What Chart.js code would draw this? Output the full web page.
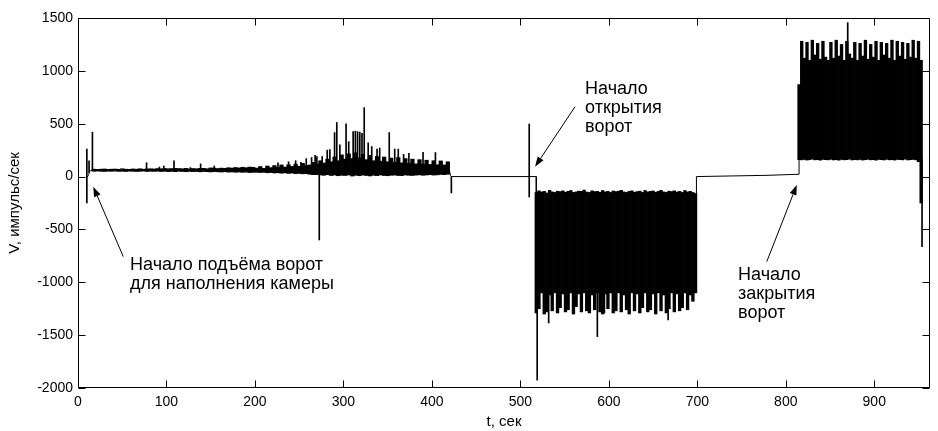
<!DOCTYPE html>
<html>
<head>
<meta charset="utf-8">
<script src="https://cdn.jsdelivr.net/npm/chart.js@4/dist/chart.umd.min.js"></script>
<style>
  body { margin: 0; background: #fff; }
  canvas { display: block; }
</style>
</head>
<body>
<canvas id="chart" width="938" height="431"></canvas>
<script>
// Axis ranges and tick labels
const tMin = 0, tMax = 963;
const vMin = -2000, vMax = 1500;
const tTicks = [0, 100, 200, 300, 400, 500, 600, 700, 800, 900];
const vTicks = [-2000, -1500, -1000, -500, 0, 500, 1000, 1500];

// Thin trace for the quiet stretches (null = break in the line)
const traceT = [9, 11, 12, 13, 14, 16, 18, 19, 418, 420, 421, 422, 518, 518, 600, 699, 699, 740, 780, 815, 815];
const traceV = [0, 0, 20, 45, 55, 60, 62, null, 110, 50, 10, 0, 0, -150, null, -190, 0, 6, 12, 22, 160];

// Gate lifting, 18..198 s every 4 s: bottom and top of the noisy line
const liftStart = 18, liftStep = 4;
const liftLo = [50, 52, 50, 48, 51, 50, 52, 49, 50, 48, 51, 50, 48, 50, 52, 48, 50, 49, 51, 48,
  50, 47, 49, 46, 50, 48, 46, 49, 47, 48, 45, 48, 46, 44, 47, 45, 43, 46, 42, 44, 41, 43, 40, 42, 38, 40];
const liftHi = [70, 68, 70, 72, 68, 70, 71, 69, 74, 70, 68, 72, 70, 74, 70, 72, 74, 72, 76, 74,
  76, 74, 76, 78, 76, 74, 78, 72, 76, 74, 78, 78, 74, 82, 80, 76, 80, 78, 84, 80, 86, 82, 88, 84, 90, 88];

// Growing noise, 202..418 s every 4 s
const noiseStart = 202, noiseStep = 4;
const noiseLo = [40, 38, 40, 36, 38, 34, 36, 32, 35, 30, 33, 28, 30, 26, 28,
  22, 18, 20, 15, 12, 18, 10, 14, 8, 12, 10, 15, 5, 12, 8, 14, 10, 6, 12, 9,
  15, 10, 8, 12, 14, 10, 9, 15, 12, 10, 14, 16, 12, 15, 18, 14, 16, 20, 18, 22];
const noiseHi = [80, 95, 78, 100, 85, 104, 86, 110, 90, 112, 96, 118, 98, 125, 104,
  110, 135, 118, 150, 128, 165, 140, 185, 150, 205, 165, 215, 170, 225, 175, 210, 160, 200, 150, 190,
  145, 185, 140, 175, 135, 180, 130, 170, 125, 165, 120, 160, 118, 155, 115, 150, 112, 148, 110, 140];

// Gate opening, 518..698 s every 3 s
const openStart = 518, openStep = 3;
const openLo = [-1290, -1250, -1100, -1300, -1280, -1120, -1270, -1100, -1290, -1240,
  -1110, -1280, -1260, -1100, -1300, -1230, -1110, -1280, -1100, -1270,
  -1290, -1120, -1260, -1100, -1280, -1300, -1110, -1250, -1100, -1290,
  -1270, -1100, -1280, -1120, -1260, -1300, -1100, -1270, -1110, -1290,
  -1240, -1100, -1280, -1260, -1110, -1300, -1100, -1270, -1120, -1290,
  -1250, -1100, -1280, -1110, -1270, -1240, -1100, -1260, -1120, -1180, -1100];
const openHi = [-150, -135, -145, -140, -155, -130, -145, -150, -138, -142,
  -135, -148, -140, -132, -150, -145, -138, -140, -128, -146,
  -150, -135, -142, -140, -148, -132, -145, -140, -150, -136,
  -142, -138, -130, -145, -150, -140, -135, -148, -142, -138,
  -150, -132, -145, -140, -136, -148, -140, -130, -145, -150,
  -138, -142, -135, -146, -140, -150, -132, -145, -140, -150, -160];

// Gate closing, 815..953 s every 3 s
const closeStart = 815, closeStep = 3;
const closeLo = [160, 158, 162, 156, 160, 165, 158, 160, 155, 162,
  160, 158, 163, 157, 160, 155, 162, 158, 160, 165,
  157, 160, 158, 162, 156, 160, 163, 158, 160, 155,
  162, 160, 157, 163, 158, 160, 156, 162, 160, 158,
  165, 157, 160, 162, 158, 140, -250];
const closeHi = [870, 1280, 1120, 1270, 1100, 1290, 1150, 1260, 1110, 1280,
  1130, 1100, 1270, 1120, 1290, 1140, 1250, 1100, 1280, 1160,
  1120, 1270, 1100, 1260, 1140, 1290, 1110, 1250, 1130, 1280,
  1100, 1270, 1150, 1260, 1120, 1290, 1100, 1280, 1140, 1270,
  1110, 1260, 1130, 1290, 1120, 1280, 1100];

// Single spikes: time, bottom, top
const spikeT = [10, 12.5, 16.3, 77.5, 92, 97, 108.5, 127, 138.6, 154,
  226, 238, 246, 252, 258, 264, 268, 270, 272.7, 276,
  281.7, 284.7, 290, 292.5, 296, 303, 306, 311, 313.5, 316,
  318.5, 321, 323.5, 328, 332, 338, 341, 351.8, 358, 362,
  368, 374, 390, 404, 422, 510, 519, 532, 587, 595,
  667, 870, 954];
const spikeLo = [-250, 40, 58, 60, 60, 60, 60, 60, 60, 60,
  40, 40, 40, 40, 30, 20, 20, 20, -600, 20,
  20, 20, 20, 20, 20, 20, 20, 20, 20, 20,
  20, 20, 20, 20, 20, 20, 20, 20, 20, 20,
  20, 20, 20, 20, -155, -193, -1925, -1385, -1514, -1290,
  -1356, 1100, -663];
const spikeHi = [260, 150, 420, 131, 90, 100, 150, 85, 120, 100,
  130, 140, 150, 135, 170, 180, 200, 190, 60, 190,
  250, 255, 416, 512, 300, 500, 330, 425, 430, 425,
  420, 410, 652, 320, 284, 260, 270, 416, 260, 260,
  210, 220, 230, 227, 0, 497, -150, -1100, -1100, -1100,
  -1100, 1456, 160];

// Text labels with arrows (data coordinates)
const notes = [
  { tip: [17.3, -96], tail: [51.2, -758], at: [58.8, -884], lines: ['Начало подъёма ворот', 'для наполнения камеры'] },
  { tip: [516.6, 93], tail: [561.8, 661], at: [573.1, 781], lines: ['Начало', 'открытия', 'ворот'] },
  { tip: [812.4, -80], tail: [778.5, -805], at: [746.1, -978], lines: ['Начало', 'закрытия', 'ворот'] }
];

function bins(start, step, lo, hi) {
  return lo.map((v, i) => ({ x: start + i * step, y: [v, hi[i]] }));
}

function barSet(data, thickness) {
  return {
    type: 'bar',
    data: data,
    backgroundColor: '#000',
    borderWidth: 0,
    barThickness: thickness,
    grouped: false
  };
}

// Box round the plot with ticks pointing inwards, plus the arrows and texts
const frame = {
  id: 'frame',
  afterDatasetsDraw(chart) {
    const { ctx, chartArea: a, scales: { x, y } } = chart;
    const L = Math.round(a.left) + 0.5, R = Math.round(a.right) - 0.5;
    const T = Math.round(a.top) + 0.5, B = Math.round(a.bottom) - 0.5;
    const len = 7;
    ctx.save();
    ctx.strokeStyle = '#000';
    ctx.lineWidth = 1;
    ctx.beginPath();
    ctx.rect(L, T, R - L, B - T);
    x.ticks.forEach(t => {
      const px = Math.round(x.getPixelForValue(t.value)) + 0.5;
      ctx.moveTo(px, B); ctx.lineTo(px, B - len);
      ctx.moveTo(px, T); ctx.lineTo(px, T + len);
    });
    y.ticks.forEach(t => {
      const py = Math.round(y.getPixelForValue(t.value)) + 0.5;
      ctx.moveTo(L, py); ctx.lineTo(L + len, py);
      ctx.moveTo(R, py); ctx.lineTo(R - len, py);
    });
    ctx.stroke();

    ctx.fillStyle = '#000';
    ctx.font = '18px "Liberation Sans", Arial, sans-serif';
    ctx.textBaseline = 'alphabetic';
    notes.forEach(n => {
      const x1 = x.getPixelForValue(n.tail[0]), y1 = y.getPixelForValue(n.tail[1]);
      const x2 = x.getPixelForValue(n.tip[0]), y2 = y.getPixelForValue(n.tip[1]);
      const ang = Math.atan2(y2 - y1, x2 - x1);
      const head = 10, half = 3.5;
      const bx = x2 - head * Math.cos(ang), by = y2 - head * Math.sin(ang);
      ctx.beginPath();
      ctx.moveTo(x1, y1);
      ctx.lineTo(bx, by);
      ctx.stroke();
      ctx.beginPath();
      ctx.moveTo(x2, y2);
      ctx.lineTo(bx + half * Math.sin(ang), by - half * Math.cos(ang));
      ctx.lineTo(bx - half * Math.sin(ang), by + half * Math.cos(ang));
      ctx.closePath();
      ctx.fill();
      const tx = x.getPixelForValue(n.at[0]), ty = y.getPixelForValue(n.at[1]);
      n.lines.forEach((s, i) => ctx.fillText(s, tx, ty + i * 19));
    });
    ctx.restore();
  }
};

Chart.defaults.font.family = '"Liberation Sans", Arial, sans-serif';
Chart.defaults.color = '#000';

new Chart(document.getElementById('chart'), {
  type: 'line',
  data: {
    datasets: [
      {
        data: traceT.map((t, i) => ({ x: t, y: traceV[i] })),
        borderColor: '#000',
        borderWidth: 1,
        pointRadius: 0,
        spanGaps: false,
        tension: 0
      },
      barSet(bins(liftStart, liftStep, liftLo, liftHi), 3.6),
      barSet(bins(noiseStart, noiseStep, noiseLo, noiseHi), 3.6),
      barSet(bins(openStart, openStep, openLo, openHi), 2.7),
      barSet(bins(closeStart, closeStep, closeLo, closeHi), 2.7),
      barSet(spikeT.map((t, i) => ({ x: t, y: [spikeLo[i], spikeHi[i]] })), 1)
    ]
  },
  options: {
    responsive: false,
    animation: false,
    events: [],
    layout: { padding: { top: 18, right: 8, bottom: 0, left: 0 } },
    plugins: { legend: { display: false }, tooltip: { enabled: false } },
    scales: {
      x: {
        type: 'linear',
        min: tMin,
        max: tMax,
        offset: false,
        grid: { display: false, drawTicks: false, offset: false },
        border: { display: false },
        afterBuildTicks(scale) { scale.ticks = tTicks.map(v => ({ value: v })); },
        ticks: { padding: 6, maxRotation: 0, autoSkip: false, font: { size: 14 }, callback: v => String(v) },
        title: { display: true, text: 't, сек', font: { size: 15 }, padding: { top: 0, bottom: 0 } },
        afterFit(scale) { scale.height = 43; }
      },
      y: {
        min: vMin,
        max: vMax,
        grid: { display: false, drawTicks: false },
        border: { display: false },
        afterBuildTicks(scale) { scale.ticks = vTicks.map(v => ({ value: v })); },
        ticks: { padding: 5, autoSkip: false, font: { size: 14 }, callback: v => String(v) },
        title: { display: true, text: 'V, импульс/сек', font: { size: 15 }, padding: { top: 6, bottom: 0 } },
        afterFit(scale) { scale.width = 78; }
      }
    }
  },
  plugins: [frame]
});
</script>
</body>
</html>
